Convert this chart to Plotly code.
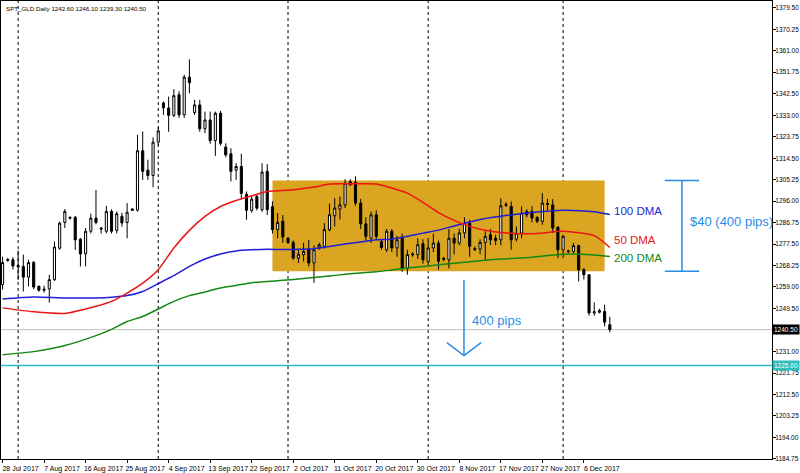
import plotly.graph_objects as go

# ---------------- data ----------------
# bar index 0 = 28 Jul 2017 (broker feed includes short Sunday bars)
bars = list(range(118))
opens = [1260.0, 1270.4, 1270.7, 1268.2, 1267.8, 1263.2, 1269.5, 1259.2, 1257.5, 1258.1,
         1262.1, 1275.7, 1286.8, 1289.0, 1289.1, 1279.6, 1273.3, 1283.0, 1288.7, 1284.4,
         1283.0, 1291.6, 1283.4, 1289.5, 1286.8, 1292.0, 1292.1, 1317.8, 1309.4, 1307.1,
         1321.5, 1338.4, 1336.3, 1333.1, 1342.0, 1333.3, 1349.6, 1334.3, 1337.6, 1327.3,
         1331.1, 1322.2, 1334.0, 1319.4, 1316.5, 1309.4, 1311.0, 1299.0, 1292.0, 1298.0,
         1292.3, 1308.9, 1293.6, 1283.7, 1287.3, 1280.0, 1278.2, 1271.4, 1272.9, 1275.3,
         1269.3, 1276.2, 1276.5, 1283.7, 1289.7, 1292.6, 1294.4, 1303.1, 1304.2, 1295.2,
         1286.2, 1280.0, 1290.1, 1278.5, 1275.0, 1283.0, 1275.8, 1280.0, 1267.0, 1272.8,
         1272.9, 1277.6, 1270.0, 1275.8, 1277.9, 1270.8, 1270.7, 1280.0, 1277.9, 1282.3,
         1286.5, 1275.0, 1275.3, 1278.2, 1281.5, 1280.0, 1279.3, 1294.2, 1293.7, 1279.6,
         1282.2, 1291.6, 1291.6, 1289.0, 1287.3, 1295.0, 1294.4, 1284.8, 1275.0, 1274.5,
         1274.3, 1276.8, 1266.4, 1264.2, 1247.7, 1248.0, 1248.4, 1242.6]
highs = [1272.0, 1271.5, 1271.8, 1274.7, 1272.9, 1270.7, 1270.2, 1259.6, 1259.5, 1264.2,
         1278.6, 1287.2, 1292.6, 1289.5, 1289.5, 1280.0, 1284.4, 1290.6, 1300.9, 1284.9,
         1294.0, 1292.5, 1291.6, 1291.0, 1295.2, 1293.0, 1324.7, 1326.1, 1313.9, 1323.6,
         1328.0, 1339.1, 1341.2, 1344.4, 1343.5, 1350.6, 1357.3, 1339.8, 1339.8, 1334.7,
         1334.7, 1334.7, 1335.0, 1321.0, 1318.9, 1312.4, 1316.5, 1300.2, 1298.5, 1299.0,
         1312.4, 1312.0, 1296.0, 1290.9, 1290.0, 1280.5, 1279.0, 1275.3, 1278.0, 1279.3,
         1277.0, 1278.0, 1286.5, 1295.0, 1297.3, 1298.0, 1305.5, 1305.5, 1306.7, 1297.0,
         1289.0, 1291.5, 1292.0, 1279.5, 1284.0, 1284.0, 1281.0, 1282.0, 1275.0, 1274.0,
         1280.0, 1279.5, 1280.0, 1282.0, 1279.0, 1272.0, 1284.0, 1282.0, 1284.0, 1289.0,
         1288.0, 1276.5, 1279.5, 1283.0, 1284.0, 1281.5, 1297.3, 1295.5, 1295.9, 1285.1,
         1293.7, 1292.5, 1293.8, 1289.5, 1299.5, 1297.0, 1296.9, 1285.1, 1281.5, 1275.0,
         1278.0, 1277.2, 1267.1, 1264.5, 1252.3, 1249.5, 1251.3, 1246.1]
lows = [1257.8, 1269.8, 1266.5, 1262.0, 1257.0, 1259.2, 1258.0, 1256.9, 1256.5, 1252.2,
        1261.5, 1275.0, 1284.4, 1288.0, 1275.0, 1267.8, 1267.8, 1282.1, 1286.0, 1282.0,
        1282.1, 1282.0, 1282.1, 1285.0, 1280.0, 1291.8, 1291.5, 1305.2, 1305.2, 1302.0,
        1320.0, 1333.3, 1326.0, 1332.3, 1332.0, 1332.0, 1342.6, 1333.3, 1326.0, 1325.4,
        1320.8, 1315.6, 1320.0, 1315.0, 1304.5, 1305.2, 1296.9, 1288.0, 1291.0, 1292.0,
        1291.4, 1290.0, 1282.0, 1280.0, 1278.0, 1277.5, 1270.7, 1269.3, 1270.0, 1267.8,
        1260.7, 1275.0, 1275.5, 1283.0, 1285.1, 1288.0, 1293.0, 1302.5, 1294.0, 1284.0,
        1279.0, 1278.0, 1279.5, 1275.0, 1274.0, 1274.0, 1272.0, 1265.5, 1264.2, 1272.0,
        1271.0, 1269.0, 1268.0, 1274.0, 1266.4, 1270.0, 1267.0, 1273.0, 1277.0, 1280.0,
        1272.0, 1274.5, 1273.0, 1270.7, 1277.0, 1277.0, 1277.0, 1293.5, 1275.0, 1278.6,
        1280.0, 1289.0, 1286.9, 1286.5, 1285.8, 1292.0, 1282.2, 1271.4, 1271.4, 1273.5,
        1273.5, 1261.3, 1262.1, 1246.5, 1246.5, 1247.5, 1241.9, 1239.3]
closes = [1269.5, 1270.8, 1268.0, 1267.6, 1263.2, 1269.5, 1258.9, 1257.5, 1258.0, 1262.1,
          1276.2, 1286.5, 1291.6, 1288.7, 1279.3, 1273.2, 1283.0, 1288.7, 1286.8, 1284.0,
          1291.6, 1283.0, 1290.6, 1286.6, 1291.2, 1292.6, 1317.8, 1308.9, 1307.1, 1321.5,
          1326.4, 1336.3, 1333.1, 1341.6, 1333.3, 1349.6, 1347.2, 1337.6, 1327.3, 1331.1,
          1322.2, 1334.0, 1321.0, 1316.0, 1308.9, 1311.0, 1299.4, 1292.1, 1296.9, 1293.0,
          1308.6, 1292.3, 1283.7, 1286.8, 1280.5, 1278.2, 1271.4, 1273.1, 1274.3, 1269.3,
          1275.0, 1277.2, 1283.7, 1290.1, 1293.0, 1294.4, 1303.8, 1304.5, 1295.2, 1286.2,
          1280.8, 1290.1, 1280.8, 1276.0, 1283.0, 1275.8, 1279.3, 1267.0, 1272.9, 1273.1,
          1277.2, 1270.7, 1275.8, 1277.9, 1270.0, 1271.3, 1280.0, 1277.9, 1282.3, 1286.5,
          1276.5, 1275.5, 1278.2, 1280.8, 1279.3, 1279.0, 1294.0, 1294.6, 1279.3, 1282.2,
          1290.9, 1290.1, 1288.7, 1287.3, 1295.2, 1294.6, 1284.4, 1275.0, 1280.8, 1274.3,
          1276.8, 1266.4, 1264.2, 1247.7, 1248.2, 1248.7, 1243.7, 1240.5]

# moving averages at sample bars
ma_bars = [0, 6, 12, 18, 21, 24, 27, 30, 33, 36, 39, 42, 45, 48, 51, 54, 57, 60, 63, 66, 69,
           72, 75, 78, 81, 84, 87, 90, 93, 96, 102, 108, 114, 117]
ma50 = [1249.9, 1248.2, 1247.5, 1250.6, 1252.7, 1256.3, 1260.6, 1266.4, 1275.8, 1283.4, 1289.4,
        1293.7, 1296.3, 1298.3, 1300.2, 1300.6, 1301.2, 1302.1, 1303.4, 1303.5, 1303.5,
        1303.4, 1301.7, 1299.5, 1295.5, 1291.1, 1287.7, 1285.1, 1283.4, 1282.5, 1281.9,
        1283.0, 1281.1, 1276.0]
ma100 = [1253.7, 1254.6, 1254.2, 1254.2, 1254.5, 1255.2, 1257.0, 1260.4, 1263.8, 1267.8, 1271.0,
         1273.2, 1274.5, 1275.0, 1275.2, 1275.1, 1275.2, 1275.5, 1276.4, 1277.5, 1278.4,
         1279.3, 1279.6, 1280.8, 1282.2, 1283.5, 1285.3, 1287.0, 1288.5, 1289.5, 1291.1,
         1292.1, 1291.4, 1290.2]
ma200 = [1229.7, 1231.0, 1233.6, 1237.9, 1240.6, 1244.0, 1246.2, 1249.4, 1252.7, 1255.2, 1256.8,
         1258.5, 1259.6, 1260.8, 1261.3, 1261.8, 1262.4, 1263.0, 1263.7, 1264.4, 1265.0,
         1265.5, 1266.3, 1267.1, 1267.8, 1268.5, 1269.2, 1269.8, 1270.5, 1271.0, 1271.8,
         1273.1, 1272.8, 1272.1]

xtick_bars = [0, 8, 16, 24, 32, 40, 48, 56, 64, 72, 80, 88, 96, 104, 112]
xtick_labels = ["28 Jul 2017", "7 Aug 2017", "16 Aug 2017", "25 Aug 2017", "4 Sep 2017",
                "13 Sep 2017", "22 Sep 2017", "2 Oct 2017", "11 Oct 2017", "20 Oct 2017",
                "30 Oct 2017", "8 Nov 2017", "17 Nov 2017", "27 Nov 2017", "6 Dec 2017"]
month_start_bars = [3, 30, 55, 82, 108]

ytick_vals = [1379.50, 1370.25, 1361.00, 1351.75, 1342.50, 1333.00, 1323.75, 1314.50, 1305.25,
              1296.00, 1286.75, 1277.50, 1268.25, 1259.00, 1249.50, 1231.00, 1221.75,
              1212.50, 1203.25, 1194.00, 1184.75]
ytick_labels = ["%.2f" % v for v in ytick_vals]

last_price = 1240.50
level_line = 1225.00
range_top, range_bottom = 1304.9, 1265.7
range_bar_start, range_bar_end = 52, 116

# ---------------- styles ----------------
FONT = "Liberation Sans"
BLUE_NOTE = "rgb(40,140,230)"
C50, C100, C200 = "rgb(235,20,20)", "rgb(30,30,215)", "rgb(20,135,20)"
TEAL = "rgb(45,190,190)"

fig = go.Figure()

fig.add_trace(go.Candlestick(
    x=bars, open=opens, high=highs, low=lows, close=closes,
    increasing=dict(fillcolor="white", line=dict(color="black", width=1)),
    decreasing=dict(fillcolor="black", line=dict(color="black", width=1)),
    whiskerwidth=0, showlegend=False, hoverinfo="skip"))

for vals, col in [(ma200, C200), (ma100, C100), (ma50, C50)]:
    fig.add_trace(go.Scatter(x=ma_bars, y=vals, mode="lines",
                             line=dict(color=col, width=1.5, shape="spline", smoothing=0.6),
                             showlegend=False, hoverinfo="skip"))

shapes = []
for b in month_start_bars:
    shapes.append(dict(type="line", xref="x", yref="paper", x0=b, x1=b, y0=0, y1=1,
                       line=dict(color="black", width=1, dash="dot"), layer="below"))
shapes.append(dict(type="rect", xref="x", yref="y", x0=range_bar_start, x1=range_bar_end,
                   y0=range_bottom, y1=range_top, fillcolor="rgb(218,165,32)",
                   line=dict(width=0), layer="below"))
shapes.append(dict(type="line", xref="paper", yref="y", x0=0, x1=1, y0=last_price, y1=last_price,
                   line=dict(color="rgb(192,192,192)", width=1), layer="below"))
shapes.append(dict(type="line", xref="paper", yref="y", x0=0, x1=1, y0=level_line, y1=level_line,
                   line=dict(color=TEAL, width=1.3), layer="below"))
# bracket showing range height
br_x, br_l, br_r = 130.9, 127.6, 134.2
for yy in (range_top, range_bottom):
    shapes.append(dict(type="line", xref="x", yref="y", x0=br_l, x1=br_r, y0=yy, y1=yy,
                       line=dict(color=BLUE_NOTE, width=1.5)))
shapes.append(dict(type="line", xref="x", yref="y", x0=br_x, x1=br_x, y0=range_bottom, y1=range_top,
                   line=dict(color=BLUE_NOTE, width=1.5)))
# projection arrow
ar_x = 88.9
shapes.append(dict(type="line", xref="x", yref="y", x0=ar_x, x1=ar_x, y0=1262.1, y1=1229.3,
                   line=dict(color=BLUE_NOTE, width=1.5)))
shapes.append(dict(type="path", xref="x", yref="y",
                   path="M 85.6 1234.9 L %s 1229.3 L 92.2 1234.9" % ar_x,
                   line=dict(color=BLUE_NOTE, width=1.5)))

annotations = [
    dict(xref="paper", yref="paper", x=0, y=1, xshift=3, yshift=-2, xanchor="left", yanchor="top",
         text="SPT_GLD,Daily 1242.60 1246.10 1239.30 1240.50", showarrow=False,
         font=dict(family=FONT, size=6.2, color="black")),
    dict(xref="x", yref="y", x=117.4, y=1291.9, xanchor="left", text="100 DMA", showarrow=False,
         font=dict(family=FONT, size=11.5, color=C100)),
    dict(xref="x", yref="y", x=117.4, y=1279.3, xanchor="left", text="50 DMA", showarrow=False,
         font=dict(family=FONT, size=11.5, color=C50)),
    dict(xref="x", yref="y", x=117.4, y=1271.6, xanchor="left", text="200 DMA", showarrow=False,
         font=dict(family=FONT, size=11.5, color=C200)),
    dict(xref="x", yref="y", x=132.1, y=1287.1, xanchor="left", text="$40 (400 pips)", showarrow=False,
         font=dict(family=FONT, size=13, color=BLUE_NOTE)),
    dict(xref="x", yref="y", x=90.1, y=1244.4, xanchor="left", text="400 pips", showarrow=False,
         font=dict(family=FONT, size=13, color=BLUE_NOTE)),
    dict(xref="paper", yref="y", x=1, y=last_price, xanchor="left", xshift=0, text="%.2f" % last_price,
         showarrow=False, bgcolor="black", borderpad=1,
         font=dict(family=FONT, size=6.5, color="white")),
    dict(xref="paper", yref="y", x=1, y=level_line, xanchor="left", xshift=0, text="%.2f" % level_line,
         showarrow=False, bgcolor=TEAL, borderpad=1,
         font=dict(family=FONT, size=6.5, color="white")),
]

fig.update_layout(
    width=800, height=473,
    margin=dict(l=1, r=28, t=1, b=14, autoexpand=False),
    paper_bgcolor="white", plot_bgcolor="white",
    boxgap=0.42,
    shapes=shapes, annotations=annotations,
    font=dict(family=FONT, size=7, color="black"),
    xaxis=dict(range=[-0.3, 148.25], showgrid=False, zeroline=False, automargin=False,
               rangeslider=dict(visible=False),
               tickmode="array", tickvals=xtick_bars, ticktext=xtick_labels,
               tickangle=0, ticks="outside", ticklen=3, tickcolor="black", ticklabelshift=18,
               tickfont=dict(family=FONT, size=7, color="black"),
               showline=True, linecolor="black", linewidth=1, mirror=True),
    yaxis=dict(range=[1184.6, 1382.5], side="right", showgrid=False, zeroline=False, automargin=False,
               tickmode="array", tickvals=ytick_vals, ticktext=ytick_labels,
               ticks="outside", ticklen=3, tickcolor="black", ticklabelstandoff=-2,
               tickfont=dict(family=FONT, size=6.5, color="black"),
               showline=True, linecolor="black", linewidth=1, mirror=True),
)

fig.write_html("out.html", config={"displayModeBar": False},
               post_script="document.body.style.margin='0';document.body.style.padding='0';")
